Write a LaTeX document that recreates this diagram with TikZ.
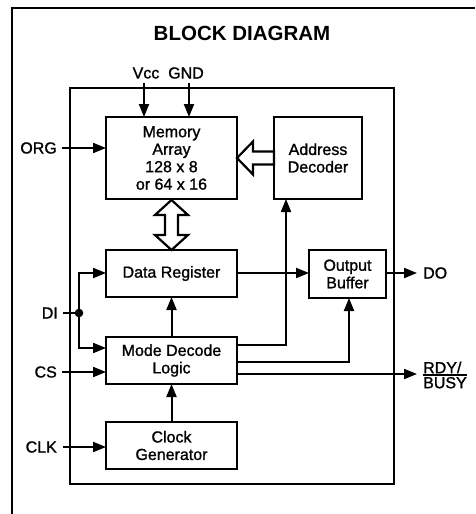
\documentclass[tikz,border=0pt]{standalone}
\usepackage{fontspec}
\setmainfont{Liberation Sans}
\newfontfamily\diafont{Liberation Sans}[BoldFont=Liberation Sans, BoldFeatures={FakeBold=1.2}]
\usetikzlibrary{arrows.meta}
\newcommand\ovlbar[1]{\leavevmode\vbox{\hrule height 1.8pt\kern1.2pt\hbox{#1}}}
\begin{document}
\begin{tikzpicture}[x=1pt,y=-1pt,
  box/.style={draw, line width=2.2pt, inner sep=0pt, outer sep=0pt, align=center,
    font=\diafont\bfseries\fontsize{16}{17.5}\selectfont},
  lbl/.style={inner sep=0pt, font=\diafont\bfseries\fontsize{16}{17.5}\selectfont},
  conn/.style={line width=2pt, -{Triangle[length=13pt,width=10pt]}},
  wire/.style={line width=2pt},
  hollow/.style={draw, line width=2.2pt, fill=white, line join=miter}]
\useasboundingbox (0,0) rectangle (475,514);
% outer frame
\draw[line width=1.2pt] (12,514) -- (12,8) -- (475,8);
\node[inner sep=0pt, font=\fontsize{20.5}{22}\selectfont\bfseries] (title) at (242,33) {BLOCK DIAGRAM};
% inner frame
\draw[line width=1.8pt] (70,88) rectangle (394,484);
% boxes
\node[box, minimum width=131pt, minimum height=82pt] (mem) at (171.5,158) {Memory\\Array\\128 x 8\\or 64 x 16};
\node[box, minimum width=88pt, minimum height=82pt] (addr) at (318,158) {Address\\Decoder};
\node[box, minimum width=131pt, minimum height=47pt] (dreg) at (171.5,273.5) {Data Register};
\node[box, minimum width=77pt, minimum height=48pt] (obuf) at (347.5,274) {Output\\Buffer};
\node[box, minimum width=131pt, minimum height=47pt] (mode) at (171.5,360.5) {Mode Decode\\Logic};
\node[box, minimum width=131pt, minimum height=47pt] (clk) at (171.5,445.5) {Clock\\Generator};
% labels
\node[lbl] (vcc) at (146,73) {Vcc};
\node[lbl] (gnd) at (186,73) {GND};
\node[lbl, anchor=east] (org) at (57,148) {ORG};
\node[lbl, anchor=east] (di) at (58,313) {DI};
\node[lbl, anchor=east] (cs) at (57,372) {CS};
\node[lbl, anchor=east] (clkin) at (57,447) {CLK};
\node[lbl, anchor=west] (do) at (423,273) {DO};
\node[lbl, anchor=west, align=left, font=\diafont\bfseries\fontsize{16}{15}\selectfont] (rdy) at (423,375) {RDY/\\\ovlbar{BUSY}};
% power
\coordinate (vccs) at (144,83);
\coordinate (gnds) at (189,83);
\draw[conn] (vccs) -- (vccs |- mem.north);
\draw[conn] (gnds) -- (gnds |- mem.north);
% inputs
\draw[conn] (org.east) ++(5,0) -- (org.east -| mem.west);
\coordinate (dot) at (79,313);
\draw[wire] (di.east) ++(5,0) -- (dot);
\fill (dot) circle (4.3);
\draw[conn] (dot) -- (79,273) -- (dreg.west |- 0,273);
\draw[conn] (dot) -- (79,348) -- (mode.west |- 0,348);
\draw[conn] (cs.east) ++(5,0) -- (cs.east -| mode.west);
\draw[conn] (clkin.east) ++(6,0) -- (clkin.east -| clk.west);
% internal
\draw[conn] (clk.north) -- (mode.south);
\draw[conn] (mode.north) -- (dreg.south);
\draw[conn] (dreg.east |- 0,273) -- (obuf.west |- 0,273);
\draw[conn] (obuf.east |- 0,273) -- (417,273);
\draw[conn] (mode.east |- 0,345) -- (286,345) -- (286,199);
\draw[conn] (mode.east |- 0,362) -- (349,362) -- (349,298);
\draw[conn] (mode.east |- 0,374) -- (417,374);
% hollow arrows
\draw[hollow] (mem.east |- 0,158) -- (253,141.5) -- (253,151.5) -- (addr.west |- 0,151.5)
  -- (addr.west |- 0,164.5) -- (253,164.5) -- (253,174.5) -- cycle;
\draw[hollow] (171.5,200) -- (188,215) -- (178,215) -- (178,235) -- (188,235) -- (171.5,250)
  -- (155,235) -- (165,235) -- (165,215) -- (155,215) -- cycle;
\end{tikzpicture}
\end{document}
